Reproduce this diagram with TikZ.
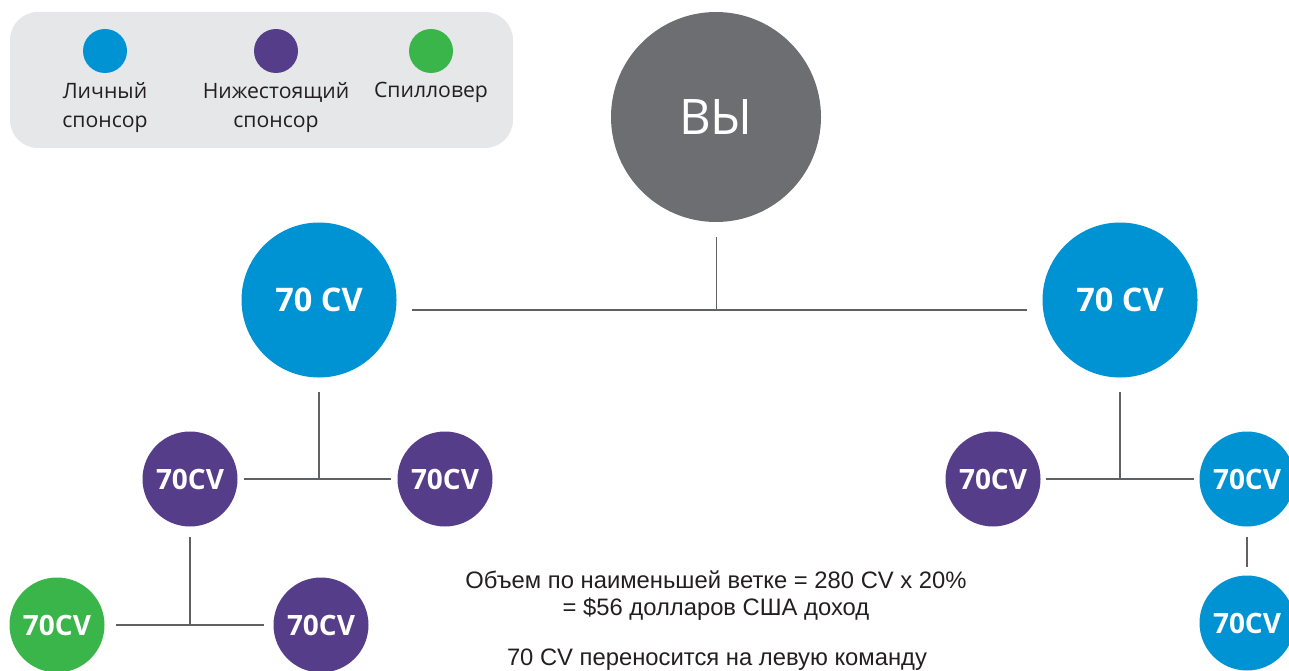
\documentclass[tikz,border=0pt]{standalone}
\usepackage{fontspec}
\setmainfont{Open Sans}
\newfontfamily\arialf{Liberation Sans}
\usetikzlibrary{calc}
\definecolor{cblue}{HTML}{0093D3}
\definecolor{cpurple}{HTML}{563D8A}
\definecolor{cgreen}{HTML}{3AB54A}
\definecolor{cgray}{HTML}{6D6E71}
\definecolor{clegend}{HTML}{E6E7E8}
\definecolor{ctext}{HTML}{231F20}
\definecolor{cline}{HTML}{606163}
\tikzset{
  legendbox/.style={rectangle, rounded corners=28pt, fill=clegend, minimum width=503pt, minimum height=136pt, inner sep=0pt},
  dot/.style={circle, inner sep=0pt, minimum size=44pt},
  lbl/.style={align=center, text=ctext, font=\fontsize{21.2}{28.5}\selectfont, inner sep=0pt},
  bigc/.style={circle, inner sep=0pt, minimum size=210pt, text=white, font=\fontsize{49}{49}\selectfont},
  midc/.style={circle, inner sep=0pt, minimum size=155pt, text=white, font=\bfseries\fontsize{32.5}{32.5}\selectfont},
  smallc/.style={circle, inner sep=0pt, minimum size=95pt, text=white, font=\bfseries\fontsize{28}{28}\selectfont},
  conn/.style={draw=cline, line width=1.5pt},
  note/.style={text=ctext, font=\arialf\fontsize{23.8}{27}\selectfont, inner sep=0pt}
}
\begin{document}
\begin{tikzpicture}[x=1pt,y=-1pt]
\useasboundingbox (0,0) rectangle (1289,671);
\clip (0,0) rectangle (1289,671);
% legend
\node[legendbox] (legend) at (261.5,80) {};
\node[dot, fill=cblue] (lb) at (105,51) {};
\node[dot, fill=cpurple] (lp) at (276,51) {};
\node[dot, fill=cgreen] (lg) at (431,51) {};
\node[lbl, anchor=base] (lbt) at (105,127.5) {Личный\\спонсор};
\node[lbl, anchor=base] (lpt) at (276,127.5) {Нижестоящий\\спонсор};
\node[lbl, anchor=base] (lgt) at (431,98) {Спилловер};
% tree
\node[bigc, fill=cgray] (you) at (716,117) {ВЫ};
\node[midc, fill=cblue] (l1) at (319,300) {70 CV};
\node[midc, fill=cblue] (r1) at (1120,300) {70 CV};
\node[smallc, fill=cpurple] (l2a) at (190,479) {70CV};
\node[smallc, fill=cpurple] (l2b) at (445,479) {70CV};
\node[smallc, fill=cgreen] (l3a) at (57,625) {70CV};
\node[smallc, fill=cpurple] (l3b) at (321,625) {70CV};
\node[smallc, fill=cpurple] (r2a) at (993,479) {70CV};
\node[smallc, fill=cblue] (r2b) at (1247,479) {70CV};
\node[smallc, fill=cblue] (r3) at (1247,623) {70CV};
% connectors
\coordinate (j0) at (716,310);
\draw[conn, line width=1pt] ([yshift=-15pt]you.south) -- (j0);
\draw[conn, line width=2pt] ($(l1.east|-j0)+(15,0)$) -- ($(r1.west|-j0)+(-15,0)$);
\coordinate (j1) at (l1 |- l2a);
\draw[conn] ([yshift=-14pt]l1.south) -- (j1);
\draw[conn] ([xshift=6pt]l2a.east) -- ([xshift=-6pt]l2b.west);
\coordinate (j2) at (l2a |- l3a);
\draw[conn] ([yshift=-10pt]l2a.south) -- (j2);
\draw[conn] ([xshift=11pt]l3a.east) -- ([xshift=-9pt]l3b.west);
\coordinate (j3) at (r1 |- r2a);
\draw[conn] ([yshift=-14pt]r1.south) -- (j3);
\draw[conn] ([xshift=5pt]r2a.east) -- ([xshift=-5pt]r2b.west);
\draw[conn] ([yshift=-10pt]r2b.south) -- ([yshift=8pt]r3.north);
% notes
\node[note, anchor=base] (t1) at (716,588) {Объем по наименьшей ветке = 280 CV x 20\%};
\node[note, anchor=base] (t2) at (716,615) {= \$56 долларов США доход};
\node[note, anchor=base] (t3) at (717,665) {70 CV переносится на левую команду};
\end{tikzpicture}
\end{document}
